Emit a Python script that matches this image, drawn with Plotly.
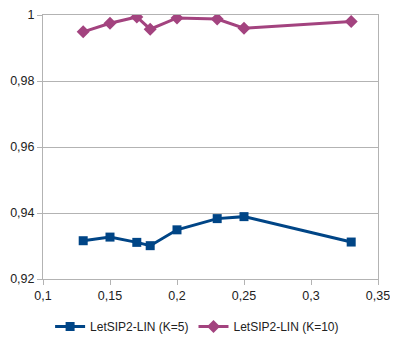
import plotly.graph_objects as go

x_values = [0.13, 0.15, 0.17, 0.18, 0.2, 0.23, 0.25, 0.33]
k5_values = [0.9316, 0.9327, 0.9311, 0.9301, 0.9349, 0.9383, 0.9389, 0.9312]
k10_values = [0.9949, 0.9975, 0.9994, 0.9957, 0.9991, 0.9988, 0.9960, 0.9980]

blue = "#004586"
purple = "#a3437f"

trace0 = go.Scatter(
    x=x_values, y=k5_values, mode="lines+markers", name="LetSIP2-LIN (K=5)",
    line=dict(color=blue, width=3),
    marker=dict(symbol="square", size=9, color=blue),
)
trace1 = go.Scatter(
    x=x_values, y=k10_values, mode="lines+markers", name="LetSIP2-LIN (K=10)",
    line=dict(color=purple, width=3),
    marker=dict(symbol="diamond", size=10, color=purple),
)

axis_style = dict(
    showline=True, linecolor="#b3b3b3", linewidth=1, mirror=True,
    ticks="outside", ticklen=5, tickcolor="#b3b3b3", zeroline=False,
    automargin=False,
)

# page body has an 8px margin, so the plot box is shifted by that amount
layout = go.Layout(
    width=398, height=340,
    margin=dict(l=35, r=28, t=7, b=65),
    paper_bgcolor="white", plot_bgcolor="white",
    font=dict(family="Liberation Sans, Arial, sans-serif", size=12.5, color="#222"),
    separators=", ",
    xaxis=dict(range=[0.1, 0.35], dtick=0.05, tick0=0.1, showgrid=False, **axis_style),
    yaxis=dict(range=[0.92, 1.0], dtick=0.02, tick0=0.92, showgrid=True,
               gridcolor="#b3b3b3", gridwidth=1, **axis_style),
    showlegend=True,
    legend=dict(orientation="h", x=0.46, xanchor="center", y=-0.125, yanchor="top",
                font=dict(size=12), itemwidth=30),
)

fig = go.Figure(data=[trace0, trace1], layout=layout)
fig.write_html("out.html")
